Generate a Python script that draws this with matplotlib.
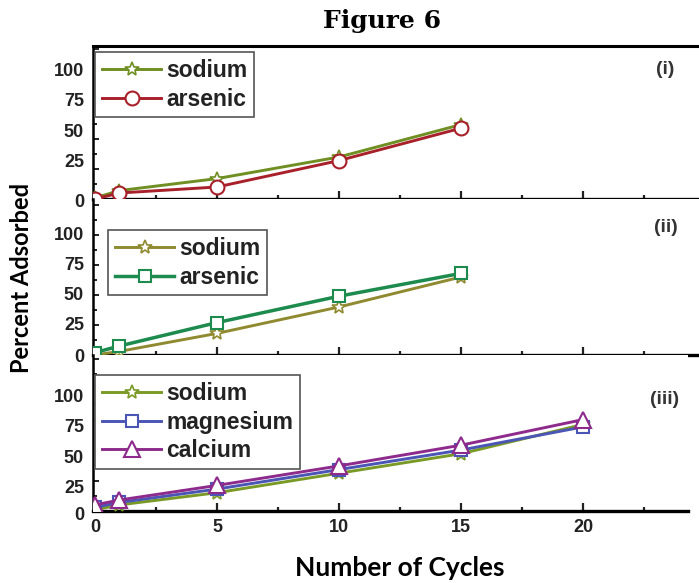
import matplotlib
matplotlib.use('Agg')
import matplotlib.pyplot as plt
from matplotlib import transforms as mtrans
from matplotlib.ticker import MultipleLocator

# ---------------- data ----------------
cycles_i = [0, 1, 5, 10, 15]
sodium_i = [1, 7, 17, 35, 62]
arsenic_i = [0, 5, 10, 32, 59]

cycles_ii = [0, 1, 5, 10, 15]
sodium_ii = [0, 3, 18, 40, 65]
arsenic_ii = [2, 7.5, 27, 49, 68]

cycles_iii = [0, 1, 5, 10, 15, 20]
sodium_iii = [1, 5, 15, 31, 47, 71]
magnesium_iii = [3, 7, 18, 34, 50, 69]
calcium_iii = [5, 9, 21, 37, 54, 75]

yticks = [0, 25, 50, 75, 100]
ytick_labels = ['0', '25', '50', '75', '100']
xticks = [0, 5, 10, 15, 20]
xtick_labels = ['0', '5', '10', '15', '20']
panel_tags = ['(i)', '(ii)', '(iii)']

# ---------------- styling ----------------
W, H = 699, 583
plt.rcParams['font.family'] = ['Liberation Sans', 'DejaVu Sans']
fig = plt.figure(figsize=(W / 100, H / 100), dpi=100)


def box(l, t, r, b):
    return [l / W, 1 - b / H, (r - l) / W, (b - t) / H]


ax1 = fig.add_axes(box(93, 46, 705, 199))
ax2 = fig.add_axes(box(93, 199, 705, 355))
ax3 = fig.add_axes(box(93, 355, 688, 511))

TICKFS = 13
LEGFS = 16.5
LW = 2.1
MEW = 1.5
TXT = '#222222'


def style(ax, xmax, ymax, top, xlab_dx, xlab_dy, ylab_dy_major, ylab_dy_zero):
    ax.set_xlim(-0.08, xmax)
    ax.set_ylim(0, ymax)
    ax.spines['right'].set_visible(False)
    ax.spines['top'].set_visible(top)
    ax.spines['top'].set_linewidth(2.2)
    ax.spines['bottom'].set_linewidth(2.4)
    ax.spines['left'].set_linewidth(1.8)
    ax.xaxis.set_major_locator(MultipleLocator(5))
    ax.xaxis.set_minor_locator(MultipleLocator(2.5))
    ax.yaxis.set_major_locator(MultipleLocator(25))
    ax.yaxis.set_minor_locator(MultipleLocator(12.5))
    ax.tick_params(which='both', direction='in', top=False, right=False,
                   labelbottom=False, labelleft=False, color='#222222')
    ax.tick_params(axis='x', which='major', length=6, width=1.6)
    ax.tick_params(axis='x', which='minor', length=3, width=1.6)
    ax.tick_params(axis='y', which='major', length=4, width=1.4)
    ax.tick_params(axis='y', which='minor', length=3, width=1.4)
    # y tick labels
    ytr = mtrans.blended_transform_factory(ax.transAxes, ax.transData)
    for v, lab in zip(yticks, ytick_labels):
        dy = ylab_dy_zero if v == 0 else ylab_dy_major
        tr = mtrans.offset_copy(ytr, fig=fig, x=-9, y=dy, units='dots')
        ax.text(0, v, lab, transform=tr, ha='right', va='center',
                fontsize=TICKFS, fontweight='bold', color=TXT)
    # x tick labels
    xtr = mtrans.blended_transform_factory(ax.transData, ax.transAxes)
    for v, lab in zip(xticks, xtick_labels):
        tr = mtrans.offset_copy(xtr, fig=fig, x=xlab_dx, y=xlab_dy, units='dots')
        ax.text(v, 0, lab, transform=tr, ha='center', va='center',
                fontsize=TICKFS, fontweight='bold', color=TXT,
                clip_on=False, zorder=10)


style(ax1, 25.0, 127.5, True, 13, -13, 7, -3)
style(ax2, 25.0, 130.0, False, 13, -13, 0, -2)
style(ax3, 24.3, 128.0, False, 0, -17, -8, -5)

# panel (i)
ax1.plot(cycles_i, sodium_i, color='#6f8f22', lw=LW, marker='*', ms=10,
         mfc='white', mec='#6f8f22', mew=1.2, label='sodium', zorder=3)
ax1.plot(cycles_i, arsenic_i, color='#a8202a', lw=LW, marker='o', ms=10,
         mfc='white', mec='#a8202a', mew=MEW, label='arsenic', zorder=4)

# panel (ii)
ax2.plot(cycles_ii, sodium_ii, color='#8f8a30', lw=LW, marker='*', ms=10,
         mfc='white', mec='#8f8a30', mew=1.2, label='sodium', zorder=3)
ax2.plot(cycles_ii, arsenic_ii, color='#1d8a4e', lw=LW + 0.4, marker='s', ms=9,
         mfc='white', mec='#1d8a4e', mew=MEW, label='arsenic', zorder=4)

# panel (iii)
ax3.plot(cycles_iii, sodium_iii, color='#7a9a26', lw=LW, marker='*', ms=10,
         mfc='white', mec='#7a9a26', mew=1.2, label='sodium', zorder=3)
ax3.plot(cycles_iii, magnesium_iii, color='#4a55b5', lw=LW, marker='s', ms=9,
         mfc='white', mec='#4a55b5', mew=MEW, label='magnesium', zorder=4)
ax3.plot(cycles_iii, calcium_iii, color='#8e2a8c', lw=LW, marker='^', ms=11,
         mfc='white', mec='#8e2a8c', mew=MEW, label='calcium', zorder=5)


def legend(ax, l, t, axl, axt, axw, axh):
    bx = (l - axl) / axw
    by = 1 - (t - axt) / axh
    leg = ax.legend(loc='upper left', bbox_to_anchor=(bx, by), borderaxespad=0,
                    fancybox=False, frameon=True, edgecolor='#555555',
                    handlelength=2.6, handletextpad=0.2, labelspacing=0.25,
                    borderpad=0.3, prop={'size': LEGFS, 'weight': 'bold'},
                    framealpha=1)
    leg.get_frame().set_linewidth(1.2)
    for t_ in leg.get_texts():
        t_.set_color(TXT)
    return leg


legend(ax1, 95, 52, 93, 46, 612, 153)
legend(ax2, 108, 230, 93, 199, 612, 156)
legend(ax3, 95, 375, 93, 355, 595, 156)

# panel tags
for tag, (px, py) in zip(panel_tags, [(665, 70), (666, 228), (665, 400)]):
    fig.text(px / W, 1 - py / H, tag, ha='center', va='center',
             fontsize=TICKFS + 1, fontweight='bold', color='#333333')

fig.text(382 / W, 1 - 21 / H, 'Figure 6', ha='center', va='center',
         fontsize=18, fontweight='bold', family='DejaVu Serif')
fig.text(400 / W, 1 - 568 / H, 'Number of Cycles', ha='center', va='center',
         fontsize=19, fontweight='bold', family='Lato')
fig.text(22 / W, 1 - 278 / H, 'Percent Adsorbed', ha='center', va='center',
         rotation=90, fontsize=17, fontweight='bold', family='Lato')

fig.savefig('out.png', dpi=100)
